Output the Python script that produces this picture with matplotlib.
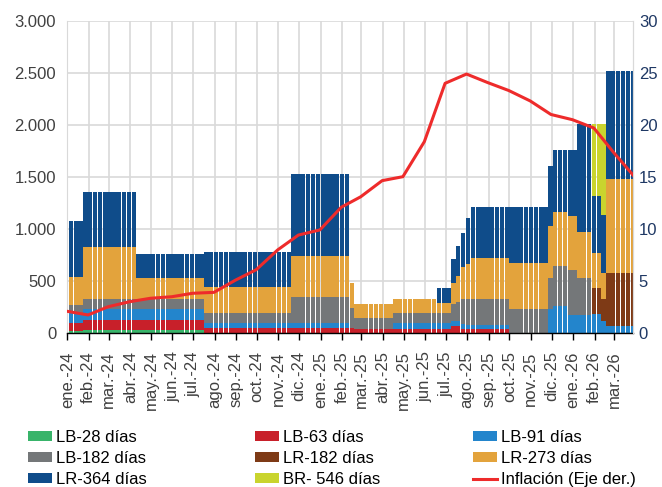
import matplotlib
matplotlib.use('Agg')
import matplotlib.pyplot as plt
import matplotlib.dates as mdates
import numpy as np
import pandas as pd
from matplotlib.patches import Patch
from matplotlib.lines import Line2D
from matplotlib.ticker import FuncFormatter, FixedLocator, MultipleLocator

plt.rcParams['font.family'] = ['Liberation Sans', 'DejaVu Sans']

# ---------------- data ----------------
# weekly auction bars (week start dates); values repeated over runs of identical weeks
week_start = pd.date_range('2023-12-27', periods=118, freq='7D')
run_lengths = [1, 3, 11, 14, 18, 12, 1, 8, 9, 3, 1, 1, 1, 1, 8, 8, 1, 3, 2, 3, 2, 1, 6]

lb28  = [25, 25, 32, 32, 0, 0, 0, 0, 0, 0, 6, 0, 0, 0, 0, 0, 0, 0, 0, 0, 0, 0, 0]
lb63  = [71, 71, 96, 96, 48, 48, 55, 45, 41, 41, 67, 73, 45, 38, 38, 0, 0, 0, 0, 0, 0, 0, 0]
lb91  = [94, 96, 102, 102, 54, 54, 0, 0, 55, 55, 48, 48, 41, 42, 42, 0, 230, 265, 176, 176, 182, 121, 73]
lb182 = [110, 80, 96, 96, 96, 250, 191, 105, 102, 102, 160, 183, 243, 249, 246, 230, 298, 384, 432, 352, 0, 0, 0]
lr182 = [0, 0, 0, 0, 0, 0, 0, 0, 0, 0, 0, 0, 0, 0, 0, 0, 0, 0, 0, 0, 250, 205, 503]
lr273 = [330, 271, 499, 202, 249, 393, 234, 130, 131, 96, 199, 246, 311, 336, 394, 448, 502, 518, 521, 447, 342, 250, 902]
lr364 = [538, 535, 534, 233, 330, 784, 0, 0, 0, 138, 233, 288, 326, 438, 489, 537, 579, 592, 630, 1034, 547, 559, 1039]
br546 = [0, 0, 0, 0, 0, 0, 0, 0, 0, 0, 0, 0, 0, 0, 0, 0, 0, 0, 0, 0, 688, 874, 0]

series_names = ['LB-28 días', 'LB-63 días', 'LB-91 días', 'LB-182 días', 'LR-182 días',
                'LR-273 días', 'LR-364 días', 'BR- 546 días']
series_vals = [lb28, lb63, lb91, lb182, lr182, lr273, lr364, br546]
series_colors = ['#38B46A', '#C8202A', '#2385CC', '#747779', '#7E3A16',
                 '#E3A33C', '#0F4C8A', '#C9D42E']

# monthly inflation (%), right axis
infl_dates = pd.date_range('2023-12-31', periods=28, freq='ME')
inflation = [2.12, 1.76, 2.55, 3.03, 3.36, 3.51, 3.84, 3.93, 5.1, 6.1, 8.0, 9.43, 9.92,
             12.1, 13.1, 14.65, 15.03, 18.39, 23.99, 24.88, 24.05, 23.3, 22.3, 21.0,
             20.5, 19.7, 17.4, 15.0]

tick_dates = pd.date_range('2024-01-01', periods=27, freq='MS')
tick_labels = ['ene.-24', 'feb.-24', 'mar.-24', 'abr.-24', 'may.-24', 'jun.-24', 'jul.-24',
               'ago.-24', 'sep.-24', 'oct.-24', 'nov.-24', 'dic.-24', 'ene.-25', 'feb.-25',
               'mar.-25', 'abr.-25', 'may.-25', 'jun.-25', 'jul.-25', 'ago.-25', 'sep.-25',
               'oct.-25', 'nov.-25', 'dic.-25', 'ene.-26', 'feb.-26', 'mar.-26']

# ---------------- plot ----------------
fig = plt.figure(figsize=(6.62, 4.87), dpi=100)
ax = fig.add_axes([67.3 / 662, 1 - 333.3 / 487, 566 / 662, 312.6 / 487])

x = mdates.date2num(week_start.to_pydatetime())
bottom = np.zeros(len(x))
for name, vals, col in zip(series_names, series_vals, series_colors):
    h = np.repeat(np.array(vals, dtype=float), run_lengths)
    ax.bar(x, h, width=6.25, bottom=bottom, align='edge', color=col,
           linewidth=0, zorder=2)
    bottom += h

x0 = mdates.date2num(pd.Timestamp('2024-01-01').to_pydatetime())
x1 = mdates.date2num(pd.Timestamp('2026-03-29').to_pydatetime())
ax.set_xlim(x0, x1)
ax.set_ylim(0, 3000)
ax.yaxis.set_major_locator(MultipleLocator(500))
ax.yaxis.set_major_formatter(FuncFormatter(lambda v, p: f'{int(v):,}'.replace(',', '.')))

tx = mdates.date2num(tick_dates.to_pydatetime())
ax.xaxis.set_major_locator(FixedLocator(tx))
ax.set_xticklabels(tick_labels, rotation=90, fontsize=12, color='#404040')
ax.tick_params(axis='x', direction='out', length=5, width=1, color='black', pad=8)
ax.tick_params(axis='y', length=0, labelsize=12, labelcolor='#404040', pad=8)

ax.grid(True, color='#D9D9D9', linewidth=1.2, zorder=0)
ax.set_axisbelow(True)
ax.spines['top'].set_visible(False)
for s in ['left', 'right']:
    ax.spines[s].set_color('#D9D9D9')
ax.spines['bottom'].set_color('black')
ax.spines['bottom'].set_linewidth(1.0)
ax.spines['bottom'].set_zorder(5)

ax2 = ax.twinx()
ax2.plot(mdates.date2num(infl_dates.to_pydatetime()), inflation, color='#EE2B2B',
         linewidth=2.2, zorder=3)
ax2.set_ylim(0, 30)
ax2.yaxis.set_major_locator(MultipleLocator(5))
ax2.tick_params(axis='y', length=0, labelsize=12, labelcolor='#1F3864', pad=4)
for s in ['top', 'bottom', 'left']:
    ax2.spines[s].set_visible(False)
ax2.spines['right'].set_color('#D9D9D9')
ax2.set_xlim(x0, x1)

# ---------------- legend (3 columns) ----------------
handles = [Patch(facecolor=c, edgecolor='none') for c in series_colors]
handles.append(Line2D([0], [0], color='#EE2B2B', linewidth=2.2))
labels = series_names + ['Inflación (Eje der.)']
cols = [[0, 3, 6], [1, 4, 7], [2, 5, 8]]
col_x = [28 / 662, 255 / 662, 473 / 662]
for cx, idx in zip(col_x, cols):
    fig.legend([handles[i] for i in idx], [labels[i] for i in idx],
               loc='upper left', bbox_to_anchor=(cx, 1 - 430 / 487),
               frameon=False, fontsize=12, handlelength=1.45, handleheight=0.55,
               handletextpad=0.25, labelspacing=0.36, borderpad=0, borderaxespad=0)

fig.savefig('out.png', dpi=100)
